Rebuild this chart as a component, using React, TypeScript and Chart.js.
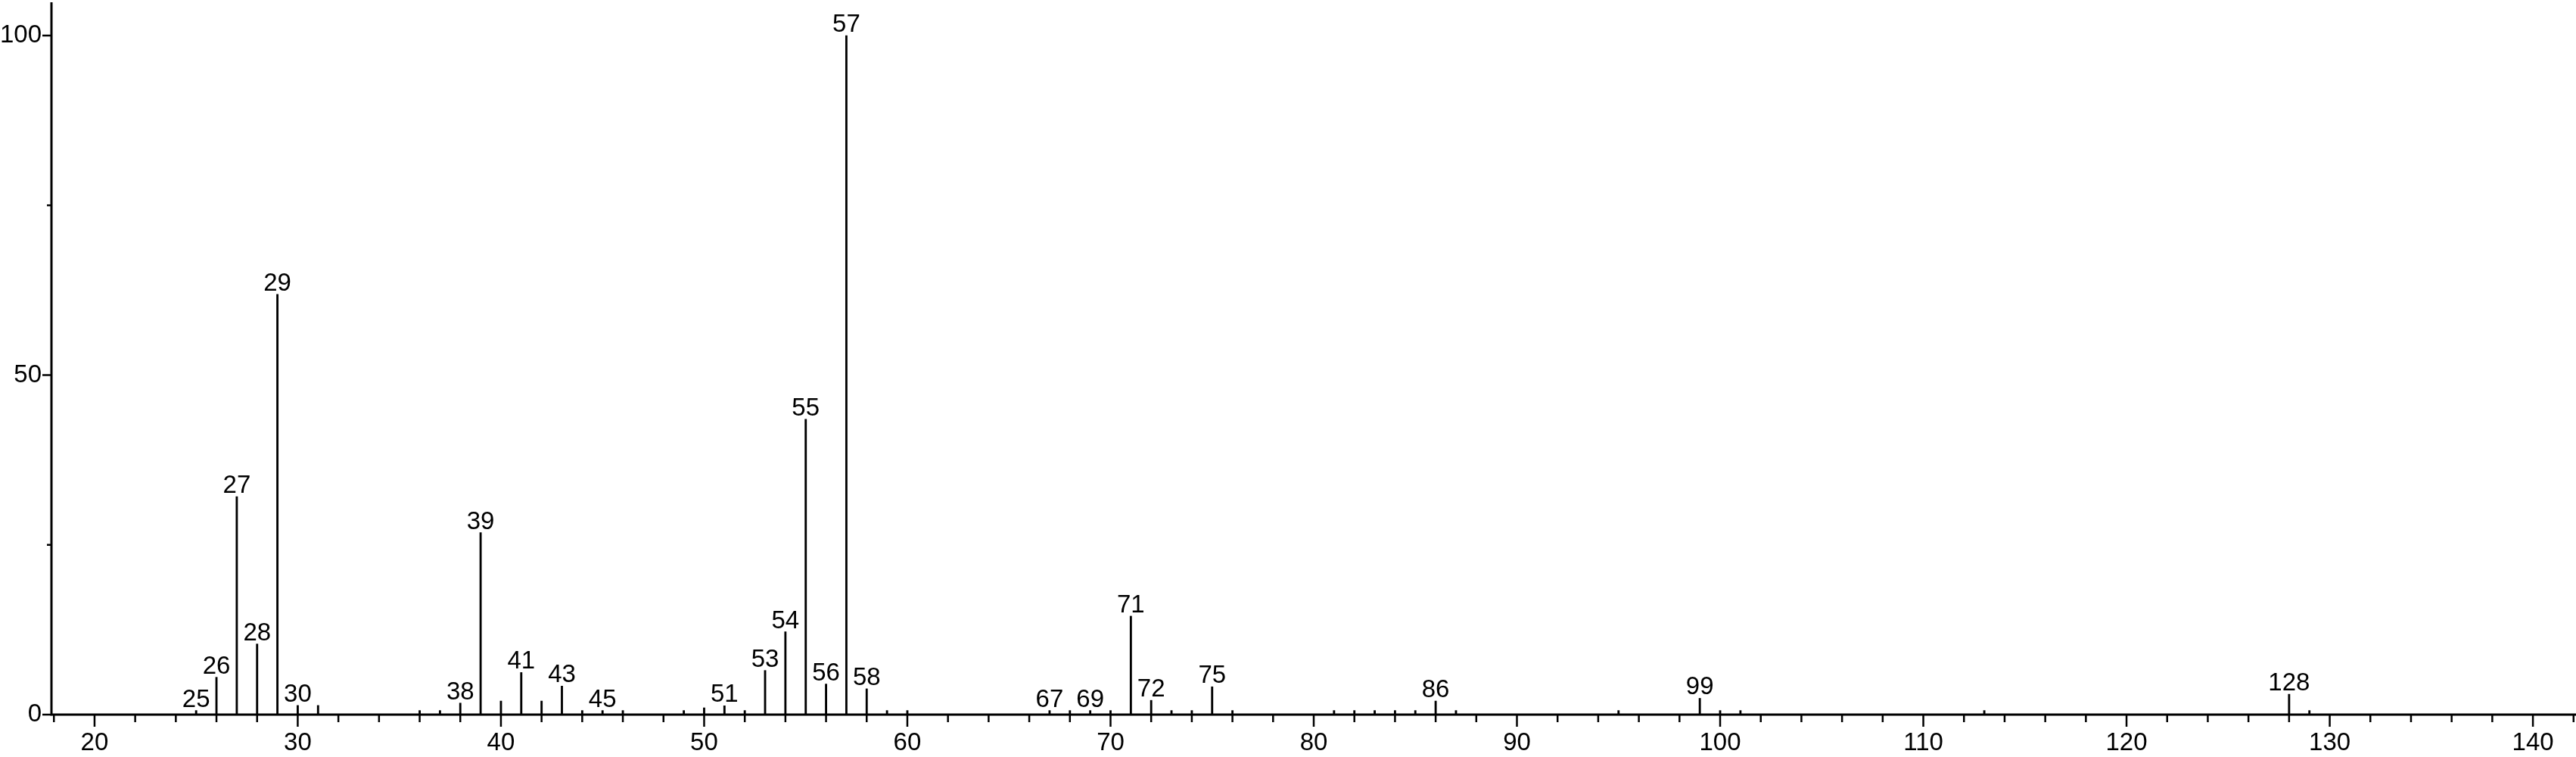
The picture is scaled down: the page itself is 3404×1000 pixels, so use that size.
import React, { useEffect, useRef } from 'react';
import { Chart, registerables } from 'chart.js';

Chart.register(...registerables);

// m/z positions of the peaks
const mzValues = [
  25, 26, 27, 28, 29, 30, 31,
  36, 37, 38, 39, 40, 41, 42, 43, 44, 45, 46,
  49, 50, 51, 52, 53, 54, 55, 56, 57, 58, 59, 60,
  67, 68, 69, 70, 71, 72, 73, 74, 75, 76,
  81, 82, 83, 84, 85, 86, 87,
  95, 99, 100, 101, 113, 128, 129,
];

// relative intensities (%)
const intensities = [
  0.6, 5.5, 32.1, 10.4, 61.9, 1.35, 1.35,
  0.6, 0.6, 1.7, 26.8, 2.0, 6.2, 2.0, 4.2, 0.6, 0.6, 0.6,
  0.6, 1.0, 1.3, 0.6, 6.5, 12.2, 43.5, 4.5, 100, 3.8, 0.6, 0.6,
  0.6, 0.6, 0.6, 0.6, 14.5, 2.1, 0.6, 0.6, 4.1, 0.6,
  0.6, 0.6, 0.6, 0.6, 0.6, 2.0, 0.6,
  0.6, 2.4, 0.6, 0.6, 0.6, 3.0, 0.6,
];

// peaks that carry an m/z label
const labeledPeaks = [
  25, 26, 27, 28, 29, 30, 38, 39, 41, 43, 45, 51, 53, 54, 55, 56, 57, 58,
  67, 69, 71, 72, 75, 86, 99, 128,
];

// axis label values
const xLabelValues = [20, 30, 40, 50, 60, 70, 80, 90, 100, 110, 120, 130, 140];
const yLabelValues = [0, 50, 100];

const FONT = '"Liberation Sans", Arial, Helvetica, sans-serif';

const spectrumPlugin = {
  id: 'spectrumDecor',
  afterDatasetsDraw(chart: any) {
    const { ctx, chartArea, scales } = chart;
    const xs = scales.x;
    const ys = scales.y;
    const y0 = ys.getPixelForValue(0);
    ctx.save();
    ctx.strokeStyle = '#000';
    ctx.fillStyle = '#000';
    ctx.lineCap = 'butt';

    // x ticks
    ctx.lineWidth = 2.5;
    xs.ticks.forEach((t: any) => {
      const px = xs.getPixelForValue(t.value);
      const major = xLabelValues.includes(t.value);
      ctx.beginPath();
      ctx.moveTo(px, y0);
      ctx.lineTo(px, y0 + (major ? 16 : 10));
      ctx.stroke();
    });
    // y ticks
    ys.ticks.forEach((t: any) => {
      const py = ys.getPixelForValue(t.value);
      const major = yLabelValues.includes(t.value);
      ctx.beginPath();
      ctx.moveTo(chartArea.left, py);
      ctx.lineTo(chartArea.left - (major ? 12 : 6), py);
      ctx.stroke();
    });

    // axis lines
    ctx.lineWidth = 3;
    ctx.beginPath();
    ctx.moveTo(chartArea.left, chartArea.top);
    ctx.lineTo(chartArea.left, y0 + 1.5);
    ctx.moveTo(chartArea.left - 1.5, y0);
    ctx.lineTo(chartArea.right, y0);
    ctx.stroke();

    // peak labels
    ctx.font = `33px ${FONT}`;
    ctx.textAlign = 'center';
    ctx.textBaseline = 'alphabetic';
    mzValues.forEach((m, i) => {
      if (!labeledPeaks.includes(m)) return;
      const px = xs.getPixelForValue(m);
      const py = ys.getPixelForValue(intensities[i]);
      ctx.fillText(String(m), px, py - 5);
    });
    ctx.restore();
  },
};

export default function App() {
  const canvasRef = useRef<HTMLCanvasElement | null>(null);

  useEffect(() => {
    const canvas = canvasRef.current;
    if (!canvas) return;
    const chart = new Chart(canvas, {
      type: 'bar',
      data: {
        datasets: [
          {
            data: mzValues.map((m, i) => ({ x: m, y: intensities[i] })),
            backgroundColor: '#000',
            borderWidth: 0,
            barThickness: 2.2,
          } as any,
        ],
      },
      options: {
        responsive: false,
        animation: false,
        devicePixelRatio: 1,
        layout: { padding: { top: 3, left: 0, right: 0, bottom: 0 } },
        plugins: {
          legend: { display: false },
          tooltip: { enabled: false },
          title: { display: false },
        },
        scales: {
          x: {
            type: 'linear',
            position: 'bottom',
            min: 17.88,
            max: 142.12,
            offset: false,
            grid: { display: false, drawTicks: false },
            border: { display: false },
            ticks: {
              stepSize: 2,
              includeBounds: false,
              autoSkip: false,
              maxRotation: 0,
              minRotation: 0,
              maxTicksLimit: 200,
              padding: 18,
              color: '#000',
              font: { family: FONT, size: 33 },
              callback: (v: any) => (xLabelValues.includes(Number(v)) ? String(v) : ''),
            },
            afterFit: (s: any) => {
              s.height = 56;
              s.paddingLeft = 0;
              s.paddingRight = 0;
              s.paddingTop = 0;
              s.paddingBottom = 0;
            },
          },
          y: {
            type: 'linear',
            position: 'left',
            min: 0,
            max: 104.9,
            grid: { display: false, drawTicks: false },
            border: { display: false },
            ticks: {
              stepSize: 25,
              includeBounds: false,
              autoSkip: false,
              padding: 13,
              color: '#000',
              font: { family: FONT, size: 33 },
              callback: (v: any) => (yLabelValues.includes(Number(v)) ? String(v) : ''),
            },
            afterFit: (s: any) => {
              s.width = 68;
              s.paddingTop = 0;
              s.paddingBottom = 0;
              s.paddingLeft = 0;
              s.paddingRight = 0;
            },
          },
        },
      },
      plugins: [spectrumPlugin],
    });
    return () => {
      chart.destroy();
    };
  }, []);

  return (
    <div style={{ position: 'absolute', left: 0, top: 0, width: 3404, height: 1000, background: '#fff' }}>
      <canvas ref={canvasRef} width={3404} height={1000} style={{ display: 'block' }} />
    </div>
  );
}
